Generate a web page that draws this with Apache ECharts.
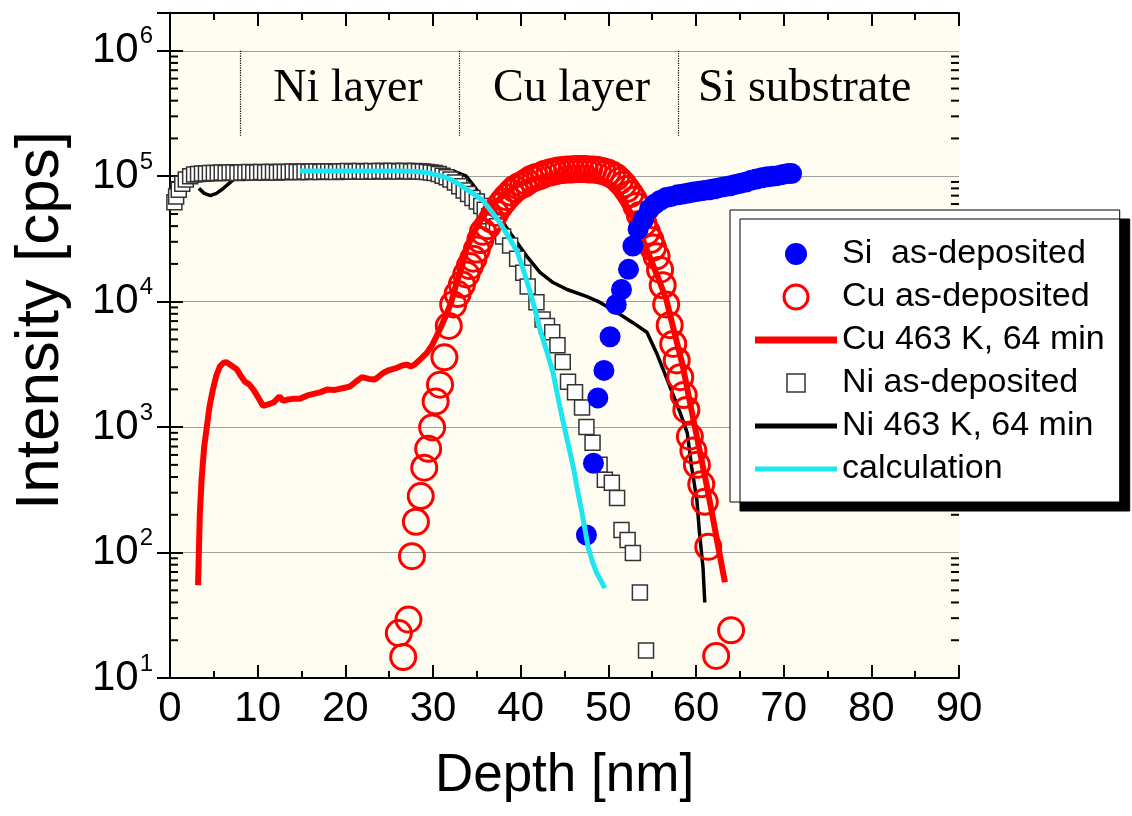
<!DOCTYPE html>
<html>
<head>
<meta charset="utf-8">
<script src="https://cdn.jsdelivr.net/npm/echarts@6/dist/echarts.min.js"></script>
<style>
  html, body { margin: 0; padding: 0; background: #ffffff; }
  #chart { width: 1132px; height: 816px; }
</style>
</head>
<body>
<div id="chart"></div>
<script>
// Depth profiles: [depth (nm), intensity (cps)]
const siAsDeposited = [
  [47.5,138],[48.3,515],[48.8,1710],[49.5,2830],[50.2,5250],[50.9,9500],[51.5,12500],[52.3,18100],
  [52.8,27800],[53.4,37800],[54.0,45000],[54.7,54600],[55.3,60000],[55.9,64000],[56.6,67700],[57.2,69000],
  [57.9,71000],[58.5,72000],[59.1,73500],[59.7,75000],[60.3,76000],[60.9,77000],[61.5,78000],[62.1,79500],
  [62.7,81000],[63.3,82500],[63.9,84000],[64.5,86000],[65.1,88000],[65.7,90000],[66.3,93000],[66.9,95000],
  [67.5,97000],[68.1,99000],[68.7,100000],[69.3,101000],[69.9,103000],[70.5,105000],[70.9,105000]
];

const cuAsDeposited = [
  [26.6,14.7],[26.1,22.8],[27.2,29.2],[27.6,93.5],[28.05,176],[28.6,282],[29.0,475],[29.45,671],
  [29.9,994],[30.3,1600],[30.8,2180],[31.3,3600],[31.8,6400],[32.3,9500],[32.8,11500],[33.3,13700],
  [33.8,16500],[34.2,19200],[34.6,22000],[35.0,26000],[35.4,31000],[35.7,36000],[36.2,40000],[36.7,45000],
  [37.1,51000],[37.6,58000],[38.0,63000],[38.4,68000],[38.9,74000],[39.3,79000],[39.8,83000],[40.3,86000],
  [40.7,90000],[41.2,95000],[41.7,98000],[42.2,100000],[42.7,104000],[43.3,107000],[43.8,109000],[44.3,111000],
  [44.8,112000],[45.3,113000],[45.8,113000],[46.3,114000],[46.8,114000],[47.3,114000],[47.8,113000],[48.3,113000],
  [48.8,112000],[49.3,110000],[49.9,107000],[50.4,103000],[50.9,98000],[51.3,92000],[51.7,86000],[52.1,79000],
  [52.5,72000],[52.9,65000],[53.2,58000],[53.6,49000],[54.0,42000],[54.4,36000],[54.8,31000],[55.1,27000],
  [55.5,23000],[55.9,18000],[56.2,13500],[56.6,9500],[57.0,6500],[57.4,4600],[57.8,3400],[58.2,2500],
  [58.6,1800],[58.9,1370],[59.3,840],[59.7,650],[60.1,500],[60.6,350],[61.0,254],[61.4,111],
  [62.3,15],[64.0,24]
];

const cuAnnealed = [
  [3.2,55],[3.4,200],[3.6,380],[3.9,700],[4.2,1000],[4.5,1450],[4.9,2000],[5.3,2600],[5.7,3050],
  [6.1,3250],[6.4,3300],[7.0,3100],[7.6,2900],[8.1,2550],[8.55,2300],[9.0,2200],[9.5,2000],[10.0,1750],
  [10.6,1480],[11.2,1520],[11.8,1570],[12.5,1760],[12.9,1620],[13.3,1650],[14.0,1680],[14.8,1680],
  [15.6,1780],[16.5,1850],[17.2,1900],[17.9,1990],[18.8,1980],[19.8,2050],[20.5,2100],[21.2,2300],
  [21.9,2500],[22.7,2420],[23.4,2400],[24.3,2700],[25.0,2850],[25.9,2970],[26.5,3100],[27.0,3150],
  [27.5,3050],[27.9,3150],[28.6,3500],[29.3,3900],[29.9,4500],[30.4,5300],[31.0,6500],[31.6,8100],
  [32.1,10000],[32.7,14200],[33.3,19000],[33.8,26000],[34.7,36000],[35.7,48000],[36.6,58000],[37.6,66000],
  [38.5,75000],[39.5,84000],[40.5,90000],[41.4,95000],[42.3,98000],[43.3,100000],[45.0,102000],[47.0,102000],
  [48.5,100000],[49.5,92000],[50.2,86000],[50.9,79000],[51.8,63000],[52.8,48000],[53.7,34000],[54.7,23000],
  [55.6,16000],[56.6,10500],[57.5,5800],[58.5,3050],[59.5,1350],[60.4,660],[61.2,350],[61.9,193],
  [62.6,105],[63.3,58]
];

const niAsDeposited = [
  [0.5,62000],[0.7,69000],[1.0,78000],[1.4,87000],[1.8,94000],[2.3,100000],[2.75,103000],[3.2,104000],
  [3.65,105000],[4.1,105000],[4.55,106000],[5.0,106000],[5.45,106000],[5.9,107000],[6.35,106000],[6.8,107000],
  [7.25,107000],[7.7,106000],[8.15,107000],[8.6,107000],[9.05,108000],[9.5,107000],[9.95,107000],[10.4,108000],
  [10.85,107000],[11.3,108000],[11.75,108000],[12.2,107000],[12.65,108000],[13.1,108000],[13.55,108000],[14.0,109000],
  [14.45,108000],[14.9,108000],[15.35,109000],[15.8,108000],[16.25,109000],[16.7,109000],[17.15,108000],[17.6,109000],
  [18.05,109000],[18.5,109000],[18.95,108000],[19.4,109000],[19.85,109000],[20.3,110000],[20.75,109000],[21.2,109000],
  [21.65,110000],[22.1,109000],[22.55,109000],[23.0,110000],[23.45,109000],[23.9,110000],[24.35,110000],[24.8,109000],
  [25.25,110000],[25.7,110000],[26.15,109000],[26.6,110000],[27.05,110000],[27.5,109000],[27.95,110000],[28.4,109000],
  [28.85,109000],[29.3,108000],[29.75,107000],[30.2,106000],[30.65,104000],[31.1,101000],[31.55,98000],[32.0,94000],
  [32.5,89000],[33.0,83000],[33.5,77000],[34.0,72000],[34.5,67000],[35.0,63000],[35.5,58000],[35.9,54000],
  [36.4,48000],[36.9,43000],[37.3,40000],[38.0,33000],[38.8,28000],[39.6,22000],[40.3,17000],[40.8,13200],
  [41.8,9900],[42.5,7200],[43.0,6400],[43.6,5700],[44.2,4500],[44.8,3300],[45.4,2300],[46.2,1900],
  [47.0,1430],[47.5,1000],[48.2,750],[49.0,500],[49.6,380],[50.4,360],[51.0,272],[51.5,151],
  [52.2,126],[52.8,99],[53.6,48],[54.3,16.6]
];

const niAnnealed = [
  [3.3,80000],[3.9,73000],[4.6,70000],[5.3,73000],[6.0,79000],[6.6,86000],[7.4,96000],[8.3,104000],
  [9.5,107000],[12.0,108000],[15.0,109000],[18.0,109000],[21.0,110000],[24.0,110000],[26.5,112000],[29.0,114000],
  [31.0,113000],[32.5,109000],[33.8,100000],[34.7,83000],[35.7,66000],[36.6,56000],[37.6,47000],[39.1,33000],
  [40.7,23000],[42.2,17100],[43.7,14200],[45.3,12500],[47.5,11000],[49.0,9900],[51.0,8200],[52.8,6800],
  [54.4,5700],[55.5,3900],[56.7,2400],[58.2,1300],[59.0,900],[59.5,480],[60.1,262],[60.4,143],
  [60.8,76],[61.0,40]
];

const calculation = [
  [14.8,110000],[18.0,110000],[22.0,110000],[26.2,110000],[28.0,109000],[29.3,107000],[30.0,104000],[31.0,100000],
  [31.9,95000],[32.9,87000],[33.8,79000],[34.8,71000],[35.7,64000],[36.6,53000],[37.6,43000],[38.6,33000],
  [39.6,25000],[40.3,18000],[41.0,12500],[41.6,8800],[42.2,6000],[42.9,4200],[43.7,2700],[44.2,1800],
  [44.8,1140],[45.4,740],[46.0,482],[46.5,310],[47.0,207],[47.7,110],[48.2,84],[48.7,68],
  [49.2,59],[49.6,52]
];

// Layer annotations
const layerNames = ['Ni layer', 'Cu layer', 'Si substrate'];
const layerLabelPos = [[20.3, 500000], [45.8, 500000], [72.4, 500000]];
const layerBoundaries = [8, 33, 58];
const boundaryTop = 1e6;
const boundaryBottom = 2.1e5;

// Axis ranges and tick settings
const depthMin = 0, depthMax = 90, depthStep = 10;
const intensityMin = 10, intensityMax = 2e6;
const minorMantissas = [2, 3, 4, 5, 6, 7, 8, 9];
const minorDecades = [10, 100, 1000, 10000, 100000];
const yMinorTicks = [];
minorDecades.forEach(d => minorMantissas.forEach(m => yMinorTicks.push([depthMin, m * d])));

const legendNames = ['Si  as-deposited', 'Cu as-deposited', 'Cu 463 K, 64 min',
                     'Ni as-deposited', 'Ni 463 K, 64 min', 'calculation'];

// Legend icon shapes (bounding moves keep the marker smaller than the icon box)
const ICON_DOT = 'path://M0,0M24,24M1,12a11,11 0 1,0 22,0a11,11 0 1,0 -22,0Z';
const ICON_SQUARE = 'path://M0,0M24,24M3,3H21V21H3Z';
const ICON_THICK_LINE = 'path://M0,0H82V7H0Z';
const ICON_LINE = 'path://M0,0H82V5H0Z';

const SANS = 'Liberation Sans, Arial, sans-serif';
const SERIF = 'Liberation Serif, Times New Roman, serif';

const chart = echarts.init(document.getElementById('chart'), null, { renderer: 'canvas' });

const axisLineStyle = { lineStyle: { color: '#000', width: 2 } };
const tickStyle = { inside: true, length: 13, lineStyle: { color: '#000', width: 2 } };

function powerLabel(v) {
  const lg = Math.log10(v);
  const e = Math.round(lg);
  if (Math.abs(lg - e) > 1e-6) return '';
  return '{b|10}{s|' + e + '}';
}

const option = {
  animation: false,
  backgroundColor: '#ffffff',
  grid: {
    left: 170, right: 173, top: 13, bottom: 138,
    show: true, backgroundColor: '#fffdf1', borderWidth: 0
  },
  xAxis: [
    {
      type: 'value', position: 'bottom', min: depthMin, max: depthMax, interval: depthStep,
      axisLine: axisLineStyle, axisTick: tickStyle,
      minorTick: { show: true, splitNumber: 2, length: 7, lineStyle: { color: '#000', width: 2 } },
      splitLine: { show: false },
      axisLabel: { fontFamily: SANS, fontSize: 42, color: '#000', margin: 10 },
      name: 'Depth [nm]', nameLocation: 'middle', nameGap: 72,
      nameTextStyle: { fontFamily: SANS, fontSize: 53, color: '#000' }
    },
    {
      type: 'value', position: 'top', min: depthMin, max: depthMax, interval: depthStep,
      axisLine: axisLineStyle, axisTick: tickStyle,
      minorTick: { show: true, splitNumber: 2, length: 7, lineStyle: { color: '#000', width: 2 } },
      splitLine: { show: false }, axisLabel: { show: false }
    }
  ],
  yAxis: [
    {
      type: 'log', logBase: 10, position: 'left', min: intensityMin, max: intensityMax,
      axisLine: axisLineStyle, axisTick: tickStyle,
      splitLine: { show: true, lineStyle: { color: '#a0a0a0', width: 1 } },
      axisLabel: {
        margin: 17, color: '#000', formatter: powerLabel,
        rich: {
          b: { fontFamily: SANS, fontSize: 42, color: '#000' },
          s: { fontFamily: SANS, fontSize: 24, color: '#000', padding: [0, 0, 28, 1] }
        }
      },
      name: 'Intensity [cps]', nameLocation: 'middle', nameGap: 98,
      nameTextStyle: { fontFamily: SANS, fontSize: 62, color: '#000', padding: [0, 0, 0, 50] }
    },
    {
      type: 'log', logBase: 10, position: 'right', min: intensityMin, max: intensityMax,
      axisLine: axisLineStyle, axisTick: tickStyle,
      splitLine: { show: false }, axisLabel: { show: false }
    }
  ],
  legend: {
    orient: 'vertical', left: 730, top: 210, z: 20,
    padding: [27, 15, 16, 25],
    itemWidth: 82, itemHeight: 24, itemGap: 9,
    selectedMode: false, symbolKeepAspect: true,
    backgroundColor: '#ffffff', borderColor: '#000', borderWidth: 1,
    shadowColor: '#000', shadowOffsetX: 10, shadowOffsetY: 9, shadowBlur: 0,
    textStyle: { fontFamily: SANS, fontSize: 34, color: '#000', lineHeight: 30 },
    data: [
      { name: legendNames[0], icon: ICON_DOT, itemStyle: { borderWidth: 0 } },
      { name: legendNames[1], icon: 'circle', itemStyle: { borderWidth: 3 } },
      { name: legendNames[2], icon: ICON_THICK_LINE, itemStyle: { color: '#ff0000', borderWidth: 0 } },
      { name: legendNames[3], icon: ICON_SQUARE, itemStyle: { borderWidth: 1.5 } },
      { name: legendNames[4], icon: ICON_LINE, itemStyle: { color: '#000', borderWidth: 0 } },
      { name: legendNames[5], icon: ICON_LINE, itemStyle: { color: '#1ee6ee', borderWidth: 0 } }
    ]
  },
  series: [
    {
      name: 'minorTicks', type: 'custom', xAxisIndex: 0, yAxisIndex: 0, silent: true, z: 3,
      data: yMinorTicks, encode: { x: 0, y: 1 },
      renderItem: function (params, api) {
        const v = api.value(1);
        const l = api.coord([depthMin, v]);
        const r = api.coord([depthMax, v]);
        return {
          type: 'group', children: [
            { type: 'line', shape: { x1: l[0], y1: l[1], x2: l[0] + 8, y2: l[1] }, style: { stroke: '#000', lineWidth: 2 } },
            { type: 'line', shape: { x1: r[0] - 8, y1: r[1], x2: r[0], y2: r[1] }, style: { stroke: '#000', lineWidth: 2 } }
          ]
        };
      }
    },
    {
      name: 'layers', type: 'scatter', silent: true, z: 1,
      data: layerLabelPos, symbol: 'circle', symbolSize: 1,
      itemStyle: { color: 'rgba(0,0,0,0)', opacity: 1 },
      label: {
        show: true, position: 'inside', color: '#000', opacity: 1, fontFamily: SERIF, fontSize: 46,
        formatter: p => layerNames[p.dataIndex]
      },
      markLine: {
        silent: true, symbol: 'none', animation: false,
        label: { show: false },
        lineStyle: { type: 'dotted', color: '#000', width: 1.2 },
        data: layerBoundaries.map(b => [{ coord: [b, boundaryTop] }, { coord: [b, boundaryBottom] }])
      }
    },
    {
      name: legendNames[3], type: 'scatter', data: niAsDeposited, z: 3,
      symbol: 'rect', symbolSize: 15,
      itemStyle: { color: '#ffffff', borderColor: '#333', borderWidth: 1.5, opacity: 1 }
    },
    {
      name: legendNames[4], type: 'line', data: niAnnealed, z: 2,
      symbol: 'none', lineStyle: { color: '#000', width: 3.5 }, itemStyle: { color: '#000' }
    },
    {
      name: legendNames[1], type: 'scatter', data: cuAsDeposited, z: 4,
      symbol: 'circle', symbolSize: 25,
      itemStyle: { color: 'rgba(255,255,255,0)', borderColor: '#ff0000', borderWidth: 3, opacity: 1 }
    },
    {
      name: legendNames[2], type: 'line', data: cuAnnealed, z: 5,
      symbol: 'none', lineStyle: { color: '#ff0000', width: 6 }, itemStyle: { color: '#ff0000' }
    },
    {
      name: legendNames[0], type: 'scatter', data: siAsDeposited, z: 6,
      symbol: 'circle', symbolSize: 21,
      itemStyle: { color: '#0000ff', opacity: 1 }
    },
    {
      name: legendNames[5], type: 'line', data: calculation, z: 7,
      symbol: 'none', lineStyle: { color: '#1ee6ee', width: 5 }, itemStyle: { color: '#1ee6ee' }
    }
  ]
};

chart.setOption(option);
</script>
</body>
</html>
